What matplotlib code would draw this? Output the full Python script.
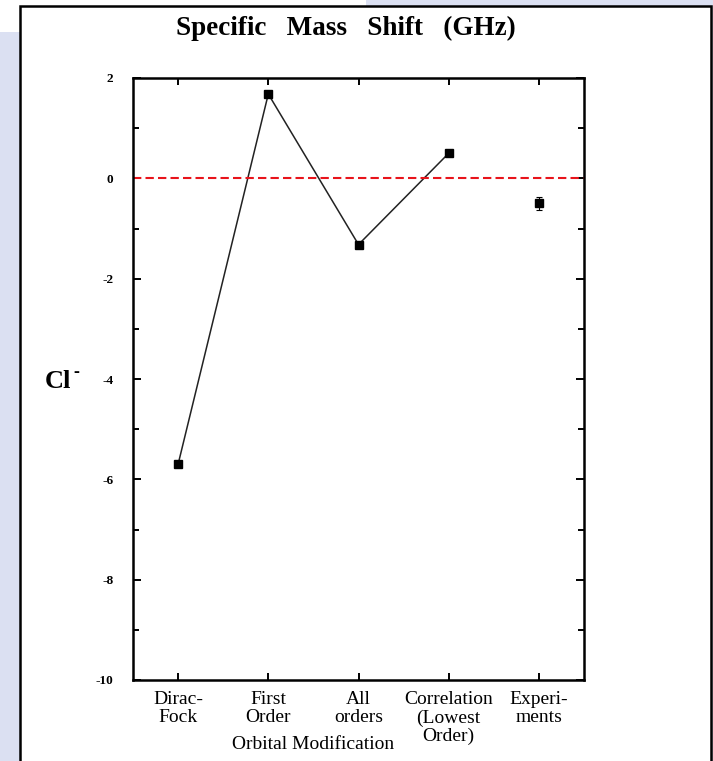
import numpy as np
import matplotlib
matplotlib.use("Agg")
import matplotlib.pyplot as plt
from matplotlib.patches import Rectangle

plt.rcParams['font.family'] = ['Liberation Serif', 'DejaVu Serif']
plt.rcParams['axes.unicode_minus'] = False

# data
categories = ["Dirac-\nFock", "First\nOrder", "All\norders",
              "Correlation\n(Lowest\nOrder)", "Experi-\nments"]
theory_values = [-5.7, 1.68, -1.32, 0.5]
experiment_value = -0.5
experiment_err = 0.13
y_ticks = [2, 0, -2, -4, -6, -8, -10]

W, H = 713, 761
fig = plt.figure(figsize=(W / 100, H / 100), dpi=100)
fig.patch.set_facecolor("white")

lav = "#dbe0f2"


def px_rect(x0, y0, x1, y1, **kw):
    # pixel box (top-left origin) -> figure rectangle, kept behind the axes
    r = Rectangle((x0 / W, 1 - y1 / H), (x1 - x0) / W, (y1 - y0) / H,
                  transform=fig.transFigure, zorder=-10, **kw)
    fig.patches.append(r)
    return r


# slide background pieces and white panel
px_rect(0, 32, 20, H, facecolor=lav, edgecolor="none")
px_rect(366, 0, W, 6, facecolor=lav, edgecolor="none")
px_rect(711, 0, W, H, facecolor=lav, edgecolor="none")
px_rect(20, 6, 711, H + 5, facecolor="white", edgecolor="black", linewidth=1.8)

ax = fig.add_axes([133 / W, 1 - 680 / H, (584 - 133) / W, (680 - 78) / H])
ax.set_facecolor("none")
ax.set_zorder(5)

xs = np.arange(1, len(categories) + 1)
ax.plot(xs[:len(theory_values)], theory_values, color="#222222", linewidth=1.1,
        marker="s", markersize=5.5, markerfacecolor="black", markeredgecolor="black")
ax.errorbar(xs[-1], experiment_value, yerr=experiment_err, fmt="s", color="black",
            markersize=5.5, capsize=2, elinewidth=0.8, capthick=0.8)
ax.axhline(0, color="#e8141b", linestyle=(0, (4, 2)), linewidth=1.5)

ax.set_xlim(0.5, 5.5)
ax.set_ylim(-10, 2)
ax.set_xticks(xs)
ax.set_xticklabels(categories, fontsize=14, linespacing=1.1, va="top")
ax.set_yticks(y_ticks)
ax.set_yticklabels([str(v) for v in y_ticks], fontsize=9.5, fontweight="bold")
ax.set_yticks(np.arange(-9, 2, 2), minor=True)
ax.tick_params(axis="both", which="both", direction="in", top=True, right=True,
               width=1.4)
ax.tick_params(axis="y", which="major", length=6, pad=14)
ax.tick_params(axis="y", which="minor", length=4)
ax.tick_params(axis="x", which="major", length=5, pad=8)
for s in ax.spines.values():
    s.set_linewidth(1.8)

ax.text(2.5, -10 - (745 - 680) / 50.2, "Orbital Modification", fontsize=14,
        ha="center", va="center")

fig.text(346 / W, 1 - 28 / H, "Specific   Mass   Shift   (GHz)", fontsize=19.5,
         fontweight="bold", ha="center", va="center")
fig.text(45 / W, 1 - 381 / H, "Cl", fontsize=19, fontweight="bold",
         ha="left", va="center")
fig.text(73 / W, 1 - 372 / H, "-", fontsize=13, fontweight="bold",
         ha="left", va="center")

fig.savefig("out.png", dpi=100)
